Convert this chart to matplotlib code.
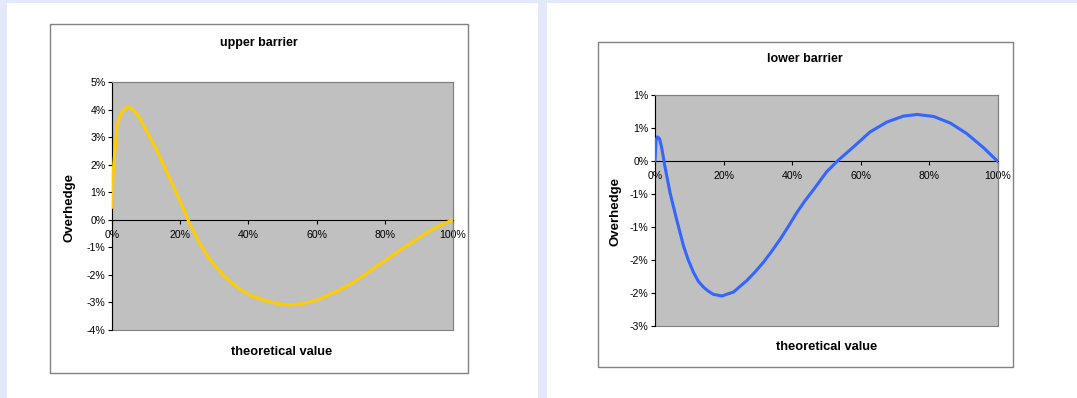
import matplotlib
matplotlib.use('Agg')
import matplotlib.pyplot as plt
from matplotlib.patches import Rectangle
from matplotlib.ticker import FuncFormatter, MultipleLocator
import numpy as np

# upper barrier curve (x in %, overhedge in %)
up_x = [0, 0.3, 1.0, 1.5, 2.4, 3.4, 4.4, 5.9, 7.3, 8.5, 9.8, 11.5, 13.2, 14.6,
        16.1, 17.8, 19.5, 21.0, 22.4, 24.1, 25.9, 27.8, 29.8, 32.5, 35.6, 37.8,
        40.0, 42.7, 45.4, 48.5, 51.7, 54.4, 57.1, 60.5, 63.9, 67.3, 70.7, 74.6,
        78.5, 82.4, 86.3, 89.8, 93.2, 96.6, 100]
up_y = [0.45, 1.66, 2.75, 3.42, 3.79, 3.98, 4.09, 4.03, 3.85, 3.60, 3.30, 2.91,
        2.51, 2.13, 1.72, 1.27, 0.81, 0.39, -0.04, -0.47, -0.89, -1.27, -1.61,
        -2.00, -2.34, -2.54, -2.71, -2.84, -2.95, -3.04, -3.09, -3.07, -3.01,
        -2.89, -2.71, -2.51, -2.28, -1.95, -1.61, -1.28, -0.95, -0.67, -0.40,
        -0.18, 0.0]

# lower barrier curve
lo_x = [0, 0.3, 0.7, 1.3, 1.9, 2.9, 4.4, 6.3, 8.3, 9.7, 11.2, 12.6, 14.1, 15.5,
        17.0, 19.5, 22.9, 26.8, 29.2, 31.6, 34.0, 36.5, 38.9, 41.3, 43.7, 46.2,
        50.1, 53.5, 57.9, 62.7, 67.6, 72.4, 76.4, 81.2, 86.1, 90.9, 95.8, 100]
lo_y = [0.0, 0.315, 0.365, 0.34, 0.215, -0.085, -0.485, -0.885, -1.285, -1.50,
        -1.685, -1.82, -1.91, -1.97, -2.02, -2.045, -1.985, -1.81, -1.68, -1.535,
        -1.37, -1.185, -0.99, -0.785, -0.605, -0.435, -0.16, 0.015, 0.215, 0.44,
        0.59, 0.68, 0.705, 0.675, 0.575, 0.415, 0.2, -0.01]

x_ticks = [0, 20, 40, 60, 80, 100]

bg = '#e3e9fb'
W, H = 1077, 398


def excel_pct(v, pos=None):
    # Excel style rounding, half away from zero
    n = int(np.sign(v) * np.floor(abs(v) + 0.5 + 1e-9))
    return "%d%%" % n


def px_rect(x0, y0, x1, y1):
    return (x0 / W, 1 - y1 / H, (x1 - x0) / W, (y1 - y0) / H)


fig = plt.figure(figsize=(W / 100, H / 100), dpi=100, facecolor=bg)
plt.rcParams['font.family'] = ['Liberation Sans', 'DejaVu Sans']

# white panels
for (x0, x1) in [(7, 538), (547, 1077)]:
    fig.patches.append(Rectangle((x0 / W, 0), (x1 - x0) / W, 1 - 3 / H,
                                 transform=fig.transFigure, facecolor='white',
                                 edgecolor='none', zorder=-2))
# chart boxes
for box in [(50, 24, 468, 373), (598, 42, 1013, 367)]:
    l, b, w, h = px_rect(*box)
    fig.patches.append(Rectangle((l, b), w, h, transform=fig.transFigure,
                                 facecolor='white', edgecolor='#808080',
                                 linewidth=1.0, zorder=-1))


def make_chart(area, xs, ys, color, ylim, ystep, fmt, title, title_xy, xl_xy, yl_xy):
    ax = fig.add_axes(px_rect(*area))
    ax.set_zorder(2)
    ax.set_facecolor('#c0c0c0')
    ax.plot(xs, ys, color=color, linewidth=2.2, solid_capstyle='round', zorder=3)
    ax.set_xlim(0, 100)
    ax.set_ylim(*ylim)
    ax.set_xticks(x_ticks)
    ax.xaxis.set_major_formatter(FuncFormatter(lambda v, p: "%d%%" % v))
    ax.yaxis.set_major_locator(MultipleLocator(ystep))
    ax.yaxis.set_major_formatter(FuncFormatter(fmt))
    ax.spines['bottom'].set_position(('data', 0))
    ax.spines['bottom'].set_linewidth(0.8)
    ax.spines['left'].set_linewidth(0.8)
    for s in ['top', 'right']:
        ax.spines[s].set_color('#808080')
        ax.spines[s].set_linewidth(0.8)
    ax.add_patch(Rectangle((0, 0), 1, 1, transform=ax.transAxes, fill=False,
                           edgecolor='#808080', linewidth=0.8, clip_on=False, zorder=1))
    ax.tick_params(axis='both', labelsize=7.6, length=3, width=0.8, pad=1.5)
    ax.tick_params(axis='x', pad=4)
    fig.text(title_xy[0] / W, 1 - title_xy[1] / H, title, ha='center', va='center',
             fontsize=9, fontweight='bold')
    fig.text(xl_xy[0] / W, 1 - xl_xy[1] / H, 'theoretical value', ha='center',
             va='center', fontsize=9.3, fontweight='bold')
    fig.text(yl_xy[0] / W, 1 - yl_xy[1] / H, 'Overhedge', ha='center', va='center',
             fontsize=9.5, fontweight='bold', rotation=90)
    return ax


make_chart((112, 82, 453, 330), up_x, up_y, '#ffcc00', (-4, 5), 1,
           lambda v, p: "%d%%" % round(v), 'upper barrier', (259, 43), (282, 352), (69, 207))
make_chart((655, 95, 998, 326), lo_x, lo_y, '#3366ff', (-2.5, 1.0), 0.5,
           excel_pct, 'lower barrier', (805, 59), (827, 347), (615, 212))

plt.savefig('out.png', dpi=100, facecolor=bg)
